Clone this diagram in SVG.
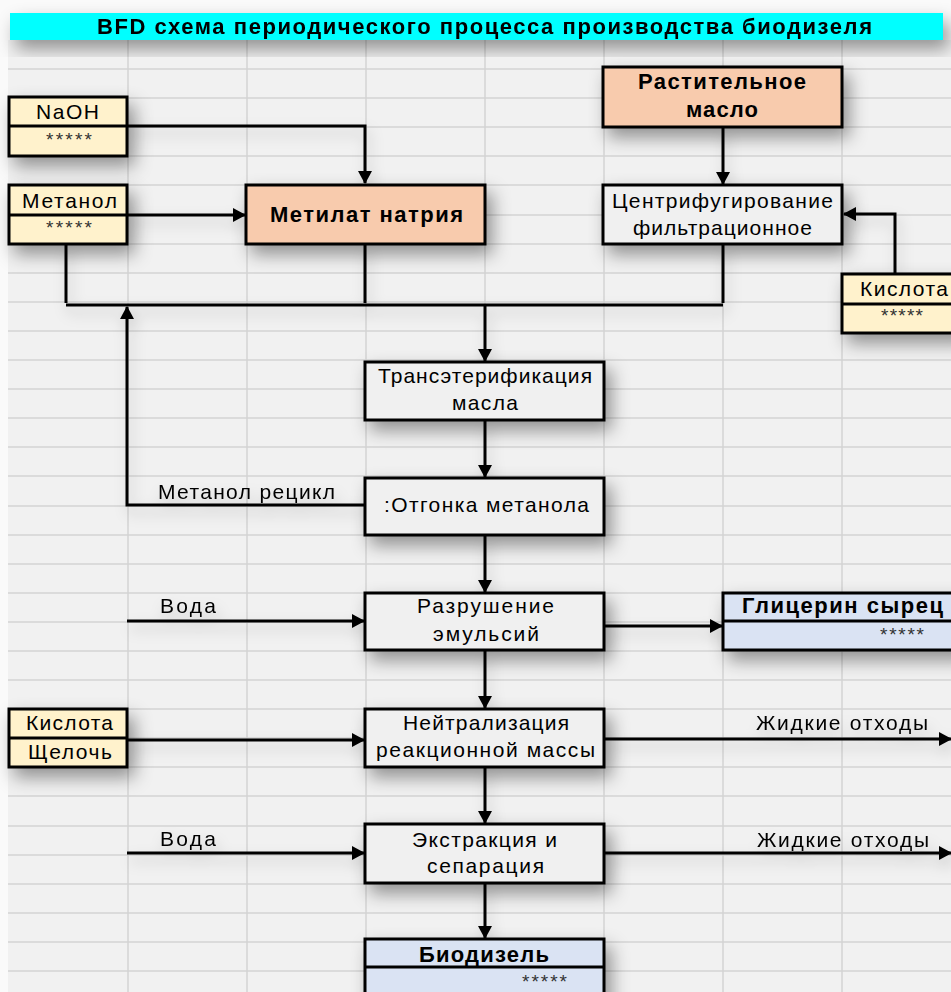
<svg xmlns="http://www.w3.org/2000/svg" width="951" height="992" viewBox="0 0 951 992">
<defs>
<style>
.t{font-family:"Liberation Sans",Arial,sans-serif;font-size:21px;fill:#000}
.b{font-weight:bold;font-size:22px}
.s{font-size:19px;fill:#333}
.box{stroke:#000;stroke-width:3}
.yel{fill:#fff2cc}
.sal{fill:#f8cbad}
.gry{fill:#f0f0f0}
.blu{fill:#dae3f3}
.ln{fill:none;stroke:#000;stroke-width:3}
.grid{stroke:#d4d4d4;stroke-width:1.5}
</style>
<filter id="sh" x="-30%" y="-40%" width="160%" height="200%">
<feDropShadow dx="6" dy="9" stdDeviation="9" flood-color="#000" flood-opacity="0.4"/>
</filter>
<filter id="shl" x="-10%" y="-10%" width="120%" height="120%">
<feDropShadow dx="3" dy="7" stdDeviation="7" flood-color="#000" flood-opacity="0.2"/>
</filter>
<marker id="ar" markerWidth="13" markerHeight="14" refX="12" refY="7" orient="auto" markerUnits="userSpaceOnUse">
<path d="M0,0 L13,7 L0,14 z" fill="#000"/>
</marker>
</defs>
<rect x="0" y="0" width="951" height="992" fill="#fafafa"/>
<rect x="8" y="40" width="943" height="952" fill="#f1f1f1"/>
<g id="grid">
<path class="grid" d="M128,40V992M247,40V992M366,40V992M485,40V992M604,40V992M723,40V992M842,40V992"/>
<path class="grid" d="M8,69H951M8,98H951M8,127H951M8,156H951M8,185H951M8,215H951M8,244H951M8,273H951M8,302H951M8,331H951M8,360H951M8,389H951M8,418H951M8,447H951M8,476H951M8,506H951M8,535H951M8,564H951M8,593H951M8,622H951M8,651H951M8,680H951M8,709H951M8,738H951M8,767H951M8,796H951M8,826H951M8,855H951M8,884H951M8,913H951M8,942H951M8,971H951"/>
</g>
<g id="title" filter="url(#sh)">
<rect x="10" y="13" width="933" height="27" fill="#00ffff"/>
<text class="t b" x="97" y="34" textLength="775">BFD схема периодического процесса производства биодизеля</text>
</g>
<g id="connectors" filter="url(#shl)">
<path class="ln" d="M127,126H365V183" marker-end="url(#ar)"/>
<path class="ln" d="M127,215H245" marker-end="url(#ar)"/>
<path class="ln" d="M723,127V184" marker-end="url(#ar)"/>
<path class="ln" d="M895,274V214H844" marker-end="url(#ar)"/>
<path class="ln" d="M66,244V303M365,244V303M723,244V303M66,305H723"/>
<path class="ln" d="M485,305V361" marker-end="url(#ar)"/>
<path class="ln" d="M365,505H127V307" marker-end="url(#ar)"/>
<path class="ln" d="M485,420V477" marker-end="url(#ar)"/>
<path class="ln" d="M485,535V592" marker-end="url(#ar)"/>
<path class="ln" d="M127,621H364" marker-end="url(#ar)"/>
<path class="ln" d="M604,626H722" marker-end="url(#ar)"/>
<path class="ln" d="M485,651V708" marker-end="url(#ar)"/>
<path class="ln" d="M127,740H364" marker-end="url(#ar)"/>
<path class="ln" d="M604,739H951" marker-end="url(#ar)"/>
<path class="ln" d="M485,767V823" marker-end="url(#ar)"/>
<path class="ln" d="M127,853H364" marker-end="url(#ar)"/>
<path class="ln" d="M604,853H951" marker-end="url(#ar)"/>
<path class="ln" d="M485,883V938" marker-end="url(#ar)"/>
<text class="t" x="158" y="499" textLength="177">Метанол рецикл</text>
<text class="t" x="160" y="613" textLength="56">Вода</text>
<text class="t" x="756" y="730" textLength="172">Жидкие отходы</text>
<text class="t" x="160" y="846" textLength="56">Вода</text>
<text class="t" x="757" y="847" textLength="172">Жидкие отходы</text>
</g>
<g id="naoh">
<rect class="box yel" x="9" y="97" width="118" height="59" filter="url(#sh)"/>
<path class="ln" d="M9,126H127"/>
<text class="t" x="36" y="119" textLength="63">NaOH</text>
<text class="t s" x="46" y="146" textLength="46">*****</text>
</g>
<g id="metanol">
<rect class="box yel" x="9" y="185" width="118" height="59" filter="url(#sh)"/>
<path class="ln" d="M9,215H127"/>
<text class="t" x="22" y="208" textLength="95">Метанол</text>
<text class="t s" x="46" y="234" textLength="46">*****</text>
</g>
<g id="metilat">
<rect class="box sal" x="246" y="185" width="239" height="59" filter="url(#sh)"/>
<text class="t b" x="270" y="222" textLength="193">Метилат натрия</text>
</g>
<g id="maslo">
<rect class="box sal" x="603" y="67" width="239" height="60" filter="url(#sh)"/>
<text class="t b" x="638" y="89" textLength="168">Растительное</text>
<text class="t b" x="686" y="117" textLength="72">масло</text>
</g>
<g id="centrif">
<rect class="box gry" x="603" y="185" width="239" height="59" filter="url(#sh)"/>
<text class="t" x="612" y="208" textLength="221">Центрифугирование</text>
<text class="t" x="633" y="235" textLength="179">фильтрационное</text>
</g>
<g id="kislota1">
<rect class="box yel" x="842" y="274" width="120" height="59" filter="url(#sh)"/>
<path class="ln" d="M842,304H962"/>
<text class="t" x="860" y="296" textLength="88">Кислота</text>
<text class="t s" x="881" y="322" textLength="42">*****</text>
</g>
<g id="trans">
<rect class="box gry" x="365" y="362" width="239" height="58" filter="url(#sh)"/>
<text class="t" x="378" y="383" textLength="214">Трансэтерификация</text>
<text class="t" x="452" y="410" textLength="66">масла</text>
</g>
<g id="otgonka">
<rect class="box gry" x="365" y="478" width="239" height="57" filter="url(#sh)"/>
<text class="t" x="384" y="512" textLength="205">:Отгонка метанола</text>
</g>
<g id="razrush">
<rect class="box gry" x="365" y="593" width="239" height="57" filter="url(#sh)"/>
<text class="t" x="417" y="613" textLength="137">Разрушение</text>
<text class="t" x="433" y="641" textLength="106">эмульсий</text>
</g>
<g id="glicerin">
<rect class="box blu" x="723" y="593" width="240" height="57" filter="url(#sh)"/>
<path class="ln" d="M723,621H963"/>
<text class="t b" x="742" y="613" textLength="201">Глицерин сырец</text>
<text class="t s" x="880" y="641" textLength="44">*****</text>
</g>
<g id="kislota2">
<rect class="box yel" x="9" y="709" width="118" height="58" filter="url(#sh)"/>
<path class="ln" d="M9,738H127"/>
<text class="t" x="26" y="730" textLength="87">Кислота</text>
<text class="t" x="28" y="759" textLength="84">Щелочь</text>
</g>
<g id="neutral">
<rect class="box gry" x="365" y="709" width="239" height="58" filter="url(#sh)"/>
<text class="t" x="403" y="730" textLength="166">Нейтрализация</text>
<text class="t" x="376" y="757" textLength="219">реакционной массы</text>
</g>
<g id="extract">
<rect class="box gry" x="365" y="824" width="239" height="59" filter="url(#sh)"/>
<text class="t" x="412" y="847" textLength="145">Экстракция и</text>
<text class="t" x="427" y="873" textLength="117">сепарация</text>
</g>
<g id="biodiesel">
<rect class="box blu" x="365" y="939" width="239" height="70" filter="url(#sh)"/>
<path class="ln" d="M365,967H604"/>
<text class="t b" x="419" y="962" textLength="130">Биодизель</text>
<text class="t s" x="522" y="988" textLength="45">*****</text>
</g>
</svg>
